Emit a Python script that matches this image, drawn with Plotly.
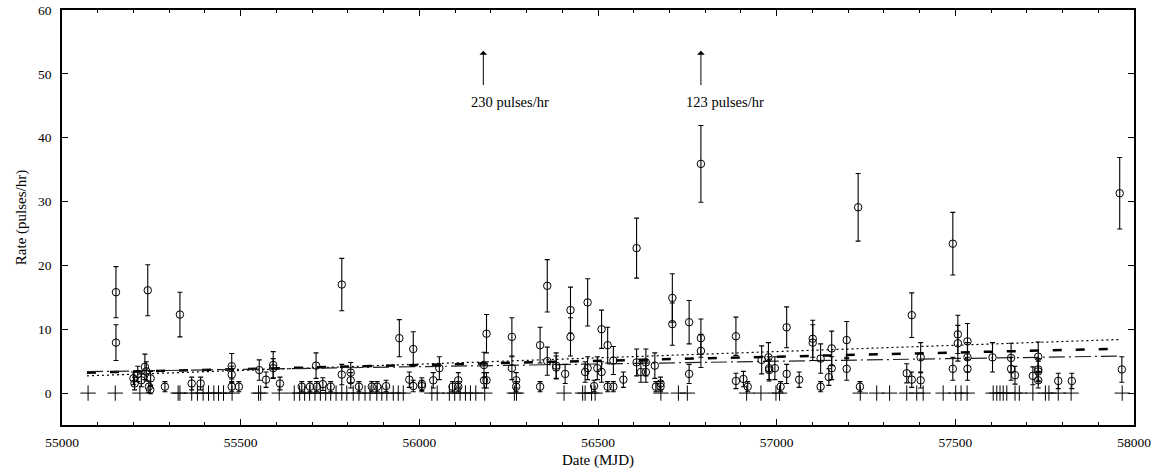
import plotly.graph_objects as go

# Detections: date (MJD), rate (pulses/hr), 1-sigma error
det_mjd = [55151, 55151, 55200, 55203, 55212, 55222, 55232, 55236, 55240, 55243, 55248, 55247,
           55288, 55330, 55363, 55388, 55475, 55475, 55475, 55495, 55552, 55571, 55591, 55591,
           55610, 55671, 55694, 55711, 55713, 55730, 55752, 55783, 55783, 55808, 55808, 55831,
           55867, 55882, 55907, 55944, 55972, 55983, 55983, 56007, 56007, 56039, 56056, 56093,
           56109, 56109, 56181, 56188, 56181, 56188, 56259, 56259, 56271, 56271, 56338, 56338,
           56358, 56358, 56383, 56383, 56408, 56423, 56423, 56464, 56471, 56471, 56489, 56498,
           56510, 56510, 56527, 56527, 56543, 56543, 56571, 56608, 56608, 56620, 56634, 56634,
           56659, 56662, 56675, 56675, 56708, 56708, 56755, 56755, 56788, 56788, 56788, 56886,
           56886, 56907, 56919, 56958, 56977, 56979, 56979, 56995, 57011, 57028, 57028, 57063,
           57101, 57101, 57123, 57123, 57146, 57154, 57154, 57196, 57196, 57228, 57233, 57364,
           57378, 57378, 57403, 57403, 57493, 57493, 57507, 57507, 57534, 57534, 57534, 57604,
           57656, 57656, 57667, 57717, 57732, 57732, 57732, 57732, 57788, 57826, 57960, 57966]
det_rate = [15.8, 7.9, 2.3, 1.5, 3.0, 2.0, 4.1, 3.4, 16.1, 1.0, 2.3, 0.5,
            1.0, 12.3, 1.5, 1.5, 4.2, 2.9, 1.0, 1.0, 3.6, 2.1, 4.4, 3.9,
            1.5, 1.0, 1.0, 4.3, 1.0, 1.4, 1.0, 17.0, 2.9, 3.2, 2.0, 1.0,
            1.0, 1.0, 1.1, 8.6, 2.1, 6.9, 1.1, 1.4, 1.1, 2.0, 3.9, 1.0,
            2.0, 1.0, 4.4, 9.3, 2.0, 2.0, 8.8, 3.9, 2.0, 1.0, 7.5, 1.0,
            16.8, 5.0, 4.3, 4.0, 3.0, 13.0, 8.8, 3.3, 14.2, 3.9, 1.1, 3.9,
            10.0, 3.3, 7.5, 1.0, 5.1, 1.0, 2.1, 22.7, 4.8, 3.3, 4.8, 3.3,
            4.3, 1.0, 1.5, 1.0, 14.9, 10.8, 11.1, 3.0, 35.9, 8.6, 6.6, 8.9,
            1.9, 2.2, 1.0, 5.2, 5.6, 3.9, 3.6, 3.9, 1.0, 10.3, 3.0, 2.1,
            8.5, 7.9, 5.4, 1.0, 2.5, 7.0, 3.9, 8.3, 3.8, 29.1, 1.0, 3.1,
            12.2, 2.1, 5.6, 2.0, 23.4, 3.8, 9.2, 7.8, 8.1, 5.6, 3.8, 5.6,
            5.5, 3.8, 2.8, 2.7, 5.7, 3.7, 3.4, 2.0, 1.9, 1.9, 31.3, 3.7]
det_err = [4.0, 2.8, 1.0, 1.0, 1.2, 1.0, 2.0, 1.5, 4.0, 0.9, 1.1, 0.6,
           0.8, 3.5, 1.0, 1.0, 2.0, 1.3, 0.8, 0.8, 1.6, 1.2, 2.1, 1.5,
           1.0, 0.8, 0.8, 2.0, 0.8, 1.0, 0.8, 4.1, 1.6, 1.6, 1.2, 0.8,
           0.8, 0.8, 0.9, 2.9, 1.2, 2.7, 0.9, 1.0, 0.9, 1.2, 1.8, 0.8,
           1.2, 0.8, 2.0, 3.0, 1.2, 1.2, 3.0, 1.8, 1.2, 0.8, 2.8, 0.8,
           4.1, 2.2, 2.0, 1.8, 1.5, 3.6, 3.0, 1.6, 3.7, 1.8, 0.9, 1.8,
           3.0, 1.6, 2.8, 0.8, 2.2, 0.8, 1.2, 4.7, 2.1, 1.6, 2.1, 1.6,
           2.0, 0.8, 1.0, 0.8, 3.8, 3.3, 3.4, 1.5, 6.0, 3.0, 2.6, 3.0,
           1.2, 1.2, 0.8, 2.2, 2.3, 1.8, 1.7, 1.8, 0.8, 3.2, 1.5, 1.2,
           2.9, 2.8, 2.3, 0.8, 1.3, 2.7, 1.8, 2.9, 1.8, 5.3, 0.8, 1.5,
           3.5, 1.2, 2.3, 1.2, 4.9, 1.8, 3.0, 2.8, 2.8, 2.3, 1.8, 2.3,
           2.3, 1.8, 1.4, 1.4, 2.3, 1.7, 1.6, 1.2, 1.2, 1.2, 5.6, 2.0]

# Non-detections (rate = 0)
nondet_mjd = [55073, 55149, 55218, 55325, 55330, 55363, 55379, 55395, 55410, 55425, 55438,
              55452, 55476, 55550, 55556, 55608, 55650, 55665, 55679, 55693, 55708, 55723,
              55738, 55752, 55767, 55783, 55797, 55815, 55831, 55848, 55862, 55881, 55895,
              55909, 55927, 55941, 55955, 56035, 56050, 56084, 56099, 56114, 56129, 56143,
              56158, 56183, 56266, 56272, 56405, 56457, 56464, 56482, 56492, 56676, 56725,
              56750, 56916, 56956, 56998, 57008, 57234, 57280, 57316, 57364, 57392, 57410,
              57466, 57501, 57516, 57533, 57606, 57616, 57625, 57634, 57644, 57667, 57679,
              57717, 57752, 57762, 57788, 57824, 57967]
nondet_rate = [0] * len(nondet_mjd)

# Trend lines (end points)
dotted_mjd = [55070, 57963]
dotted_rate = [2.7, 8.4]
dashed_mjd = [55070, 57963]
dashed_rate = [3.2, 6.95]
dashdot_mjd = [55070, 57963]
dashdot_rate = [3.35, 5.8]

# Off-scale markers
arrow_mjd = [56179, 56788]
arrow_label = ["230 pulses/hr", "123 pulses/hr"]
arrow_label_mjd = [56139, 56741]

FONT = "Liberation Serif"

fig = go.Figure()

fig.add_trace(go.Scatter(x=dotted_mjd, y=dotted_rate, mode="lines",
                         line=dict(color="black", width=1.2, dash="2px,3px"),
                         showlegend=False, hoverinfo="skip"))
fig.add_trace(go.Scatter(x=dashed_mjd, y=dashed_rate, mode="lines",
                         line=dict(color="black", width=2.5, dash="9px,14px"),
                         showlegend=False, hoverinfo="skip"))
fig.add_trace(go.Scatter(x=dashdot_mjd, y=dashdot_rate, mode="lines",
                         line=dict(color="#222222", width=1.2, dash="16px,4px,2px,4px"),
                         showlegend=False, hoverinfo="skip"))

fig.add_trace(go.Scatter(x=nondet_mjd, y=nondet_rate, mode="markers",
                         marker=dict(symbol="cross-thin-open", size=11, color="black",
                                     line=dict(color="black", width=1.0)),
                         showlegend=False))

fig.add_trace(go.Scatter(x=det_mjd, y=det_rate, mode="markers",
                         marker=dict(symbol="circle-open", size=7.5, color="black",
                                     line=dict(color="black", width=1)),
                         error_y=dict(type="data", array=det_err, visible=True,
                                      color="black", thickness=1.1, width=2.5),
                         showlegend=False))

for xm, xl, txt in zip(arrow_mjd, arrow_label_mjd, arrow_label):
    fig.add_annotation(x=xm, y=53.6, ax=xm, ay=48.0, xref="x", yref="y",
                       axref="x", ayref="y", text="", showarrow=True,
                       arrowhead=1, arrowsize=1.3, arrowwidth=1, arrowcolor="black")
    fig.add_annotation(x=xl, y=45.6, xref="x", yref="y", text=txt, showarrow=False,
                       xanchor="left", yanchor="middle",
                       font=dict(family=FONT, size=14.5, color="black"))

axis_common = dict(showline=True, linecolor="black", linewidth=1.5, mirror="allticks",
                   ticks="inside", tickcolor="black", showgrid=False, zeroline=False,
                   automargin=False,
                   tickfont=dict(family=FONT, size=13.5, color="black"))

fig.update_xaxes(range=[55000, 58000], tick0=55000, dtick=500, ticklen=6, tickwidth=1,
                 tickformat="d",
                 minor=dict(dtick=100, ticklen=3, ticks="inside", tickcolor="black", showgrid=False),
                 title=dict(text="Date (MJD)", font=dict(family=FONT, size=15, color="black"),
                            standoff=6),
                 ticklabelstandoff=4,
                 **axis_common)
fig.update_yaxes(range=[-5, 60], tick0=0, dtick=10, ticklen=6, tickwidth=1,
                 title=dict(text="Rate (pulses/hr)", font=dict(family=FONT, size=15, color="black"),
                            standoff=8),
                 ticklabelstandoff=6,
                 **axis_common)

fig.update_layout(width=1163, height=472, margin=dict(l=62, r=29, t=10, b=47),
                  paper_bgcolor="white", plot_bgcolor="white",
                  font=dict(family=FONT, color="black"))

fig.write_html("out.html")
